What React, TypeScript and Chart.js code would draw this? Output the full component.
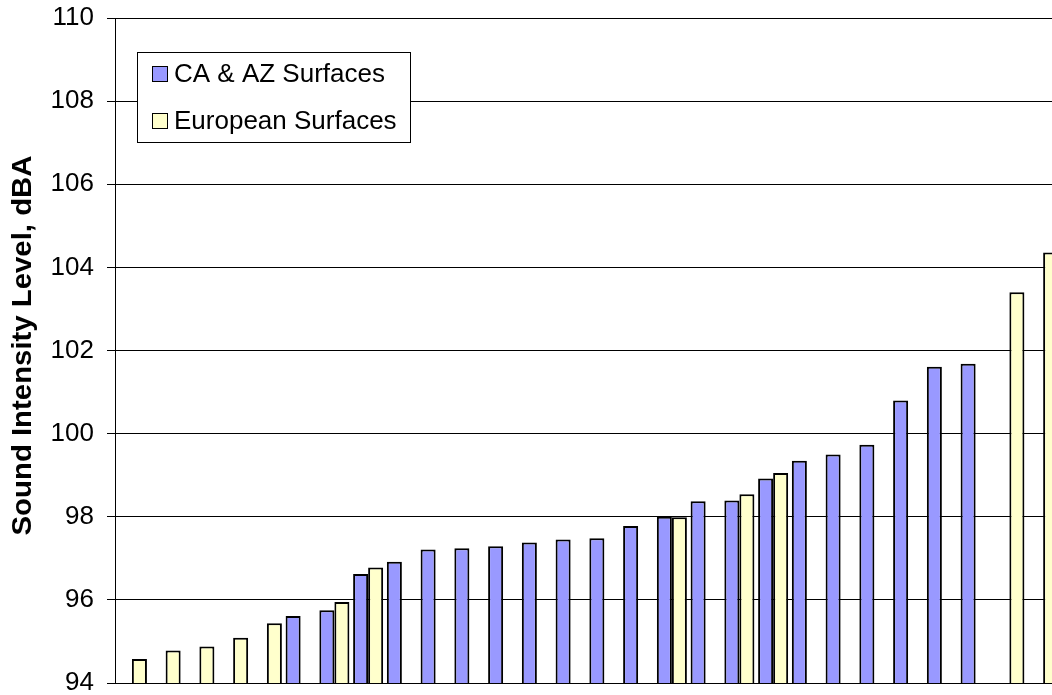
import React, { useEffect, useRef } from "react";
import { Chart, registerables } from "chart.js";

Chart.register(...registerables);

const categories = [
  "1", "2", "3", "4", "5", "6", "7", "8", "9", "10", "11", "12", "13", "14",
  "15", "16", "17", "18", "19", "20", "21", "22", "23", "24", "25", "26", "27", "28",
];

const caAzValues: (number | null)[] = [
  null, null, null, null, null, 95.61, 95.75, 96.62, 96.92, 97.21, 97.24, 97.29, 97.38, 97.45,
  97.48, 97.78, 98.0, 98.37, 98.39, 98.92, 99.35, 99.5, 99.73, 100.8, 101.61, 101.68, null, null,
];

const europeanValues: (number | null)[] = [
  94.58, 94.78, 94.88, 95.09, 95.44, null, 95.95, 96.78, null, null, null, null, null, null,
  null, null, 97.99, null, 98.54, 99.05, null, null, null, null, null, null, 103.4, 104.36,
];

const seriesNames = ["CA & AZ Surfaces", "European Surfaces"];
const yMin = 94;
const yMax = 110;
const yStep = 2;
const yTitle = "Sound Intensity Level, dBA";

const FONT = '"Liberation Sans", Arial, sans-serif';

const boxLegend = {
  id: "boxLegend",
  afterDraw(chart: any) {
    const ctx = chart.ctx as CanvasRenderingContext2D;
    const { left, top, bottom } = chart.chartArea;
    // y-axis title (slightly widened, like the original's rendering)
    ctx.save();
    ctx.translate(24, (top + bottom) / 2 - 5);
    ctx.rotate(-Math.PI / 2);
    ctx.scale(1.087, 1);
    ctx.fillStyle = "#000000";
    ctx.font = `bold 27px ${FONT}`;
    ctx.textAlign = "center";
    ctx.textBaseline = "middle";
    ctx.fillText(yTitle, 0, 0);
    ctx.restore();

    // legend box
    const bx = Math.round(left + 22);
    const by = Math.round(top + 34);
    const bw = 274;
    const bh = 91;
    ctx.save();
    ctx.fillStyle = "#ffffff";
    ctx.fillRect(bx, by, bw, bh);
    ctx.strokeStyle = "#000000";
    ctx.lineWidth = 1;
    ctx.strokeRect(bx + 0.5, by + 0.5, bw - 1, bh - 1);
    chart.data.datasets.forEach((ds: any, i: number) => {
      const cy = by + 22 + i * 47;
      ctx.fillStyle = ds.backgroundColor;
      ctx.fillRect(bx + 15, cy - 8, 16, 16);
      ctx.strokeStyle = "#000000";
      ctx.lineWidth = 1;
      ctx.strokeRect(bx + 15.5, cy - 7.5, 15, 15);
      ctx.fillStyle = "#000000";
      ctx.font = `26px ${FONT}`;
      ctx.textBaseline = "middle";
      ctx.textAlign = "left";
      ctx.fillText(ds.label, bx + 37, cy + 1);
    });
    ctx.restore();
  },
};

export default function App() {
  const canvasRef = useRef<HTMLCanvasElement | null>(null);

  useEffect(() => {
    const canvas = canvasRef.current;
    if (!canvas) return;
    const chart = new Chart(canvas, {
      type: "bar",
      data: {
        labels: categories,
        datasets: [
          {
            label: seriesNames[0],
            data: caAzValues,
            backgroundColor: "#9999FF",
            borderColor: "#000000",
            borderWidth: 2,
            borderSkipped: false,
            barPercentage: 1,
            categoryPercentage: 0.89,
          },
          {
            label: seriesNames[1],
            data: europeanValues,
            backgroundColor: "#FFFFCC",
            borderColor: "#000000",
            borderWidth: 2,
            borderSkipped: false,
            barPercentage: 1,
            categoryPercentage: 0.89,
          },
        ],
      },
      options: {
        responsive: false,
        animation: false,
        devicePixelRatio: 1,
        layout: { padding: { left: 0, top: 18, right: 10, bottom: 12 } },
        plugins: {
          legend: { display: false },
          tooltip: { enabled: false },
        },
        scales: {
          x: {
            display: false,
          },
          y: {
            min: yMin,
            max: yMax,
            ticks: {
              stepSize: yStep,
              color: "#000000",
              padding: 13,
              font: { size: 26, family: FONT, lineHeight: 0.9 },
            },
            grid: {
              color: "#000000",
              lineWidth: 1,
              tickLength: 8,
              drawTicks: true,
            },
            border: { display: true, color: "#000000", width: 1 },
            title: { display: false, text: yTitle },
            afterFit: (scale: any) => {
              scale.width = 115;
              scale.paddingTop = 0;
              scale.paddingBottom = 0;
            },
          },
        },
      },
      plugins: [boxLegend],
    } as any);
    return () => chart.destroy();
  }, []);

  return (
    <div
      style={{
        position: "fixed",
        left: 0,
        top: 0,
        width: 1052,
        height: 695,
        overflow: "hidden",
        background: "#ffffff",
      }}
    >
      <canvas ref={canvasRef} width={1070} height={695} style={{ display: "block" }} />
    </div>
  );
}
